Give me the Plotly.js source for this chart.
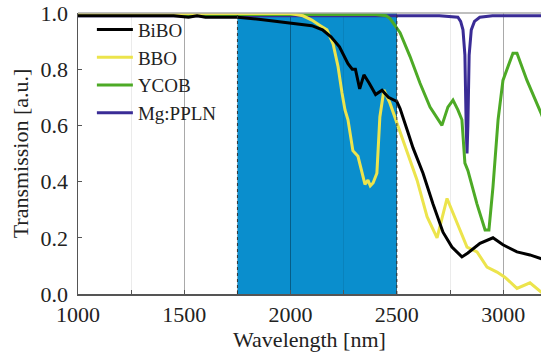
<!DOCTYPE html>
<html>
<head>
<meta charset="utf-8">
<script src="https://cdn.plot.ly/plotly-3.0.1.min.js"></script>
<style>html,body{margin:0;padding:0;overflow:hidden;background:#fff;}#chart{width:541px;height:360px;}</style>
</head>
<body>
<div id="chart"></div>
<script>
// Data
const seriesNames = ["BiBO", "BBO", "YCOB", "Mg:PPLN"];

const bibo_x = [1000,1200,1450,1520,1560,1600,1750,1850,1950,2000,2100,2150,2190,2230,2250,2270,2290,2305,2325,2345,2370,2400,2430,2460,2500,2515,2550,2576,2623,2670,2717,2759,2806,2834,2891,2952,2999,3065,3126,3173,3200];
const bibo_y = [0.99,0.99,0.99,0.985,0.99,0.985,0.985,0.978,0.968,0.965,0.955,0.94,0.915,0.88,0.85,0.82,0.80,0.80,0.73,0.78,0.75,0.71,0.725,0.70,0.685,0.66,0.58,0.52,0.43,0.32,0.22,0.167,0.132,0.146,0.18,0.2,0.175,0.15,0.139,0.128,0.12];

const bbo_x = [1000,2000,2058,2100,2140,2171,2200,2223,2242,2256,2270,2293,2317,2350,2364,2375,2388,2406,2420,2439,2467,2500,2547,2595,2642,2689,2736,2783,2830,2877,2924,2971,3008,3065,3100,3126,3178,3200];
const bbo_y = [0.998,0.998,0.99,0.975,0.955,0.94,0.89,0.81,0.715,0.655,0.62,0.51,0.49,0.39,0.405,0.385,0.395,0.43,0.63,0.726,0.68,0.61,0.51,0.405,0.275,0.20,0.34,0.25,0.167,0.15,0.096,0.078,0.06,0.02,0.03,0.04,0.007,0.0];

const ycob_x = [1000,2400,2450,2468,2515,2562,2609,2656,2712,2740,2764,2787,2806,2820,2834,2877,2915,2933,2952,2976,2999,3046,3065,3112,3178,3200];
const ycob_y = [0.995,0.995,0.99,0.98,0.93,0.845,0.75,0.665,0.60,0.665,0.69,0.655,0.62,0.466,0.44,0.32,0.228,0.228,0.38,0.62,0.76,0.857,0.857,0.76,0.644,0.6];

const ppln_x = [1000,2700,2787,2800,2811,2820,2826,2830,2834,2840,2850,2865,2890,2950,3200];
const ppln_y = [0.99,0.99,0.985,0.97,0.94,0.85,0.6,0.5,0.6,0.85,0.94,0.97,0.985,0.99,0.99];

const shadeRange = [1750, 2500];
const xTickVals = [1000,1500,2000,2500,3000];
const yTickVals = [0.0,0.2,0.4,0.6,0.8,1.0];

const colors = ["#000000", "#ece44c", "#4daa26", "#3a2c96"];
const xs = [bibo_x, bbo_x, ycob_x, ppln_x];
const ys = [bibo_y, bbo_y, ycob_y, ppln_y];

const order = [3, 2, 1, 0];
const traces = order.map(i => ({
  x: xs[i], y: ys[i], type: "scatter", mode: "lines",
  name: seriesNames[i], legendrank: i + 1,
  line: {color: colors[i], width: 3}
}));

const serifFont = "Liberation Serif";
const layout = {
  width: 541, height: 360,
  margin: {l: 78, r: 0, t: 13, b: 66},
  paper_bgcolor: "#fff", plot_bgcolor: "#fff",
  font: {family: serifFont, size: 22, color: "#222"},
  showlegend: true,
  legend: {x: 0.03, y: 1.008, xanchor: "left", yanchor: "top",
    bgcolor: "rgba(0,0,0,0)", font: {family: serifFont, size: 19, color: "#222"},
    itemwidth: 36, tracegroupgap: 0, traceorder: "normal"},
  xaxis: {
    range: [1000, 3178], tickvals: xTickVals, ticks: "inside", ticklen: 4,
    tickcolor: "#555", showline: true, linecolor: "#555", linewidth: 1.5,
    showgrid: true, gridcolor: "rgba(0,0,0,0.28)", gridwidth: 1, zeroline: false,
    minor: {dtick: 250, tick0: 1000, ticks: "inside", ticklen: 4, tickcolor: "#555", showgrid: true, gridcolor: "rgba(0,0,0,0.08)"},
    tickfont: {family: serifFont, size: 22, color: "#222"},
    title: {text: "Wavelength [nm]", font: {family: serifFont, size: 22, color: "#222"}, standoff: 2}
  },
  yaxis: {
    range: [0, 1.0], tickvals: yTickVals, tickformat: ".1f", ticks: "inside", ticklen: 4,
    tickcolor: "#555", showline: true, linecolor: "#555", linewidth: 1.5,
    showgrid: false, zeroline: false, ticklabelstandoff: 4,
    tickfont: {family: serifFont, size: 22, color: "#222"},
    title: {text: "Transmission [a.u.]", font: {family: serifFont, size: 22, color: "#222"}, standoff: 6}
  },
  shapes: [
    {type: "rect", xref: "x", yref: "y", x0: shadeRange[0], x1: shadeRange[1], y0: 0, y1: 1,
     fillcolor: "#0a8ecd", line: {width: 0}, layer: "below"},
    {type: "line", xref: "x", yref: "y", x0: shadeRange[0], x1: shadeRange[0], y0: 0, y1: 1,
     line: {color: "#333", width: 1, dash: "dot"}, layer: "above"},
    {type: "line", xref: "x", yref: "y", x0: shadeRange[1], x1: shadeRange[1], y0: 0, y1: 1,
     line: {color: "#333", width: 1, dash: "dot"}, layer: "above"},
    {type: "line", xref: "paper", yref: "paper", x0: 0, x1: 1, y0: 1, y1: 1,
     line: {color: "#aaa", width: 1.5}, layer: "above"}
  ]
};

Plotly.newPlot("chart", traces, layout, {displayModeBar: false, staticPlot: true});
</script>
</body>
</html>
